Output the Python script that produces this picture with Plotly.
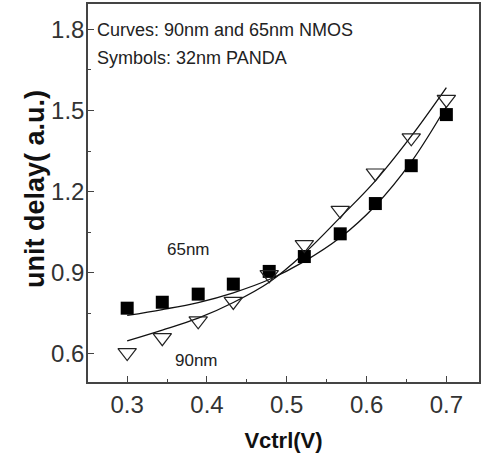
import plotly.graph_objects as go

# Symbols: 32nm PANDA
sym_x = [0.3, 0.344, 0.389, 0.433, 0.478, 0.522, 0.567, 0.611, 0.656, 0.7]
sym_65 = [0.769, 0.791, 0.821, 0.858, 0.905, 0.960, 1.044, 1.156, 1.296, 1.485]
sym_90 = [0.605, 0.660, 0.722, 0.794, 0.893, 1.004, 1.131, 1.269, 1.399, 1.541]

# Curves: 90nm and 65nm NMOS
curve_x = [0.3, 0.344, 0.389, 0.433, 0.478, 0.522, 0.567, 0.611, 0.656, 0.7]
curve_65 = [0.742, 0.764, 0.790, 0.826, 0.875, 0.942, 1.030, 1.148, 1.310, 1.515]
curve_90 = [0.648, 0.688, 0.732, 0.790, 0.865, 0.972, 1.105, 1.240, 1.405, 1.585]

x_ticks = [0.3, 0.4, 0.5, 0.6, 0.7]
y_ticks = [0.6, 0.9, 1.2, 1.5, 1.8]

fig = go.Figure()
fig.add_trace(go.Scatter(x=curve_x, y=curve_65, mode="lines", line=dict(color="#111", width=1.3, shape="spline"), showlegend=False))
fig.add_trace(go.Scatter(x=curve_x, y=curve_90, mode="lines", line=dict(color="#111", width=1.3, shape="spline"), showlegend=False))
fig.add_trace(go.Scatter(x=sym_x, y=sym_65, mode="markers", marker=dict(symbol="square", size=13, color="black"), showlegend=False))
fig.add_trace(go.Scatter(x=sym_x, y=sym_90, mode="markers", marker=dict(symbol="triangle-down-open", size=16, color="#222", line=dict(width=1.2)), showlegend=False))

font_main = "Liberation Sans, Arial, sans-serif"

fig.add_annotation(x=0.0, y=1.0, xref="paper", yref="paper", xanchor="left", yanchor="middle", xshift=7, yshift=-26,
                   text="Curves: 90nm and 65nm NMOS", showarrow=False, align="left",
                   font=dict(family=font_main, size=18, color="#222"))
fig.add_annotation(x=0.0, y=1.0, xref="paper", yref="paper", xanchor="left", yanchor="middle", xshift=7, yshift=-54,
                   text="Symbols: 32nm PANDA", showarrow=False, align="left",
                   font=dict(family=font_main, size=18, color="#222"))
fig.add_annotation(x=0.377, y=0.985, text="65nm", showarrow=False, font=dict(family=font_main, size=17, color="#222"))
fig.add_annotation(x=0.387, y=0.574, text="90nm", showarrow=False, font=dict(family=font_main, size=17, color="#222"))

# y-axis title placed as rotated text left of the tick labels
fig.add_annotation(x=0.0, y=0.5, xref="paper", yref="paper", xanchor="center", yanchor="middle",
                   xshift=-53, yshift=4, textangle=-90, text="<b>unit delay( a.u.)</b>", showarrow=False,
                   font=dict(family=font_main, size=27, color="#111"))

axis_common = dict(showgrid=False, zeroline=False, showline=True, linecolor="#444", linewidth=1.5, mirror=True,
                   ticks="inside", tickcolor="#444", ticklen=6, tickwidth=1.2,
                   tickfont=dict(family=font_main, size=24, color="#333"))

fig.update_xaxes(range=[0.2509, 0.7409], tickvals=x_ticks, ticktext=[f"{v:.1f}" for v in x_ticks],
                 minor=dict(ticks="inside", ticklen=3, tickcolor="#444", dtick=0.05, tick0=0.25),
                 title=dict(text="<b>Vctrl(V)</b>", font=dict(family=font_main, size=22, color="#111"), standoff=16),
                 **axis_common)
fig.update_yaxes(range=[0.496, 1.894], tickvals=y_ticks, ticktext=[f"{v:.1f}" for v in y_ticks],
                 minor=dict(ticks="inside", ticklen=3, tickcolor="#444", dtick=0.15, tick0=0.45),
                 ticklabelstandoff=-3,
                 **axis_common)

fig.update_layout(width=482, height=457, margin=dict(l=88, r=1, t=4, b=75),
                  plot_bgcolor="white", paper_bgcolor="white", showlegend=False)

fig.write_html("out.html")
